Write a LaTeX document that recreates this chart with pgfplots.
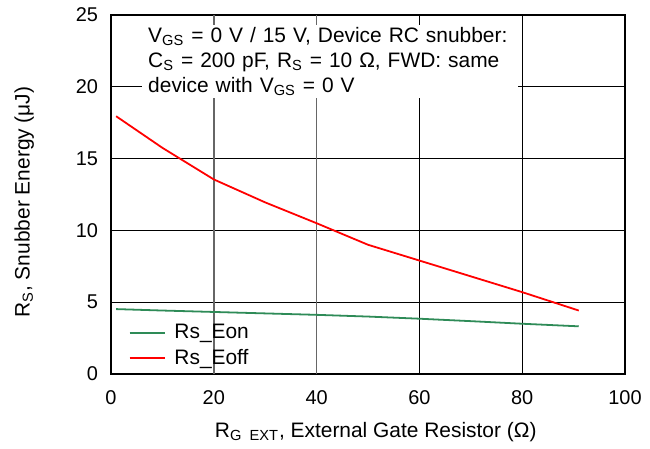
\documentclass[border=0pt]{standalone}
\usepackage{pgfplots}
\pgfplotsset{compat=1.18}
\usepackage{fontspec}
\setmainfont{Liberation Sans}

\definecolor{eongreen}{RGB}{46,139,87}
\definecolor{eoffred}{RGB}{255,0,0}

\begin{document}
\begin{tikzpicture}
\begin{axis}[
  name=ax,
  scale only axis,
  width=257bp, height=179.5bp,
  xmin=0, xmax=100, ymin=0, ymax=25,
  xtick={0,60,80,100},
  extra x ticks={20,40},
  extra x tick style={grid=major, major grid style={black!60, line width=0.9pt}},
  ytick={0,5,10,15,20,25},
  grid=major,
  major grid style={black, line width=0.5pt},
  major tick length=0pt,
  axis line style={line width=1pt},
  tick label style={font=\fontsize{10}{12}\selectfont},
  /pgf/number format/assume math mode=true,
  xticklabel style={yshift=-5bp},
  yticklabel style={xshift=-3bp},
  xlabel={R\textsubscript{G~~EXT}, External Gate Resistor (Ω)},
  ylabel={R\textsubscript{S}, Snubber Energy (μJ)},
  label style={font=\fontsize{10.5}{12}\selectfont},
  xlabel style={at={(rel axis cs:0.515,0)}, anchor=center, yshift=-29bp},
  ylabel style={at={(rel axis cs:-0.169,0.479)}, anchor=center},
  legend style={draw=none, fill=none, at={(rel axis cs:0.022,-0.005)}, anchor=south west,
    font=\fontsize{10.5}{12}\selectfont, row sep=0pt},
  legend image code/.code={\draw[#1] (0bp,0bp) -- (17.5bp,0bp); \path (20bp,0bp);},
  legend cell align=left,
]
\addplot[eongreen, line width=0.9pt] coordinates {
(1,4.52)(10,4.42)(20,4.32)(30,4.22)(40,4.12)(50,4.0)(60,3.85)(70,3.68)(80,3.5)(91,3.32)
};
\addlegendentry{Rs\_Eon}
\addplot[eoffred, line width=0.9pt] coordinates {
(1,17.95)(10,15.75)(20,13.55)(30,11.95)(40,10.5)(50,9.0)(60,7.9)(70,6.8)(80,5.7)(91,4.42)
};
\addlegendentry{Rs\_Eoff}
\node[fill=white, anchor=north west, inner xsep=3bp, inner ysep=1bp, text width=182bp,
  align=left, font=\fontsize{10.5}{12.5}\selectfont]
  at (rel axis cs:0.060,0.972)
  {V\textsubscript{GS} = 0 V / 15 V, Device RC snubber:\\
   C\textsubscript{S} = 200 pF, R\textsubscript{S} = 10 Ω, FWD: same\\
   device with V\textsubscript{GS} = 0 V};
\end{axis}
\pgfresetboundingbox
\path ([xshift=-55.5bp, yshift=-37.5bp]ax.south west) rectangle ([xshift=12.5bp, yshift=7.5bp]ax.north east);
\end{tikzpicture}
\end{document}
